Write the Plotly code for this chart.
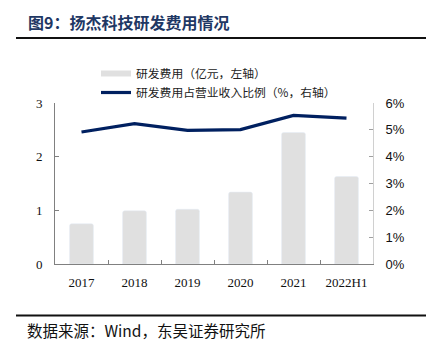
import plotly.graph_objects as go

categories = ["2017", "2018", "2019", "2020", "2021", "2022H1"]
rd_expense = [0.75, 0.99, 1.02, 1.34, 2.45, 1.63]          # 亿元, left axis
rd_ratio = [4.92, 5.23, 4.98, 5.01, 5.54, 5.44]             # %, right axis
left_ticks = [0, 1, 2, 3]
right_ticks = [0, 1, 2, 3, 4, 5, 6]
right_tick_labels = ["0%", "1%", "2%", "3%", "4%", "5%", "6%"]

bar_name = "研发费用（亿元，左轴）"
line_name = "研发费用占营业收入比例（%，右轴）"
title_text = "图9：扬杰科技研发费用情况"
source_text = "数据来源：Wind，东吴证券研究所"

BAR_COLOR = "#e0e0e0"
LINE_COLOR = "#002060"
CJK = "Noto Sans CJK SC"

L, R, T, B = 55, 58, 103, 91
PW = 431 - L - R
PH = 355 - T - B


def px_x(x):
    return (x - L) / PW


def px_y(y):
    return (355 - B - y) / PH


fig = go.Figure()
fig.add_trace(go.Bar(
    x=categories, y=rd_expense, marker_color=BAR_COLOR, width=0.45,
    showlegend=False, name=bar_name, yaxis="y"))
# legend proxy for bars (wide swatch)
fig.add_trace(go.Scatter(
    x=[None], y=[None], mode="lines", line=dict(color=BAR_COLOR, width=6),
    name=bar_name, showlegend=True))
fig.add_trace(go.Scatter(
    x=categories, y=rd_ratio, mode="lines", line=dict(color=LINE_COLOR, width=3.2),
    name=line_name, yaxis="y2"))

fig.update_layout(
    width=431, height=355,
    margin=dict(l=L, r=R, t=T, b=B, autoexpand=False),
    paper_bgcolor="white", plot_bgcolor="white",
    barcornerradius=2,
    showlegend=True,
    legend=dict(
        x=px_x(96), y=px_y(59),
        xanchor="left", yanchor="top", bgcolor="rgba(0,0,0,0)",
        font=dict(family=CJK, size=11.8, color="#222"),
        traceorder="normal", tracegroupgap=0),
    xaxis=dict(
        type="category", showline=True, linecolor="#808080", linewidth=1,
        ticks="inside", ticklen=4, tickcolor="#808080", tickson="boundaries",
        tickfont=dict(family="Liberation Serif", size=13, color="#111"),
        ticklabelstandoff=6, showgrid=False, zeroline=False),
    yaxis=dict(
        range=[0, 3], tickvals=left_ticks, showline=True, linecolor="#808080",
        linewidth=1, ticks="inside", ticklen=4, tickcolor="#808080",
        tickfont=dict(family="Liberation Serif", size=13, color="#111"),
        ticklabelstandoff=9, showgrid=False, zeroline=False),
    yaxis2=dict(
        range=[0, 6], tickvals=right_ticks, ticktext=right_tick_labels,
        overlaying="y", side="right", showline=True, linecolor="#d0d0d0", linewidth=1,
        ticks="inside", ticklen=4, tickcolor="#a0a0a0",
        tickfont=dict(family="Liberation Sans", size=13, color="#111"),
        ticklabelstandoff=9, showgrid=False, zeroline=False),
)

# header / footer decorations
fig.add_annotation(text="<b>" + title_text + "</b>", xref="paper", yref="paper",
                   x=px_x(26), y=px_y(21.5), xanchor="left", yanchor="middle",
                   showarrow=False, font=dict(family=CJK, size=16, color="#1f3864"))
fig.add_shape(type="line", xref="paper", yref="paper",
              x0=px_x(16), x1=px_x(426), y0=px_y(38), y1=px_y(38),
              line=dict(color="#111", width=2))
fig.add_shape(type="line", xref="paper", yref="paper",
              x0=px_x(16), x1=px_x(426), y0=px_y(315.5), y1=px_y(315.5),
              line=dict(color="#111", width=2))
fig.add_annotation(text=source_text, xref="paper", yref="paper",
                   x=px_x(25), y=px_y(330), xanchor="left", yanchor="middle",
                   showarrow=False, font=dict(family=CJK, size=15.5, color="#111"))

fig.write_html("out.html", config={"displayModeBar": False},
               post_script="document.body.style.margin='0';")
